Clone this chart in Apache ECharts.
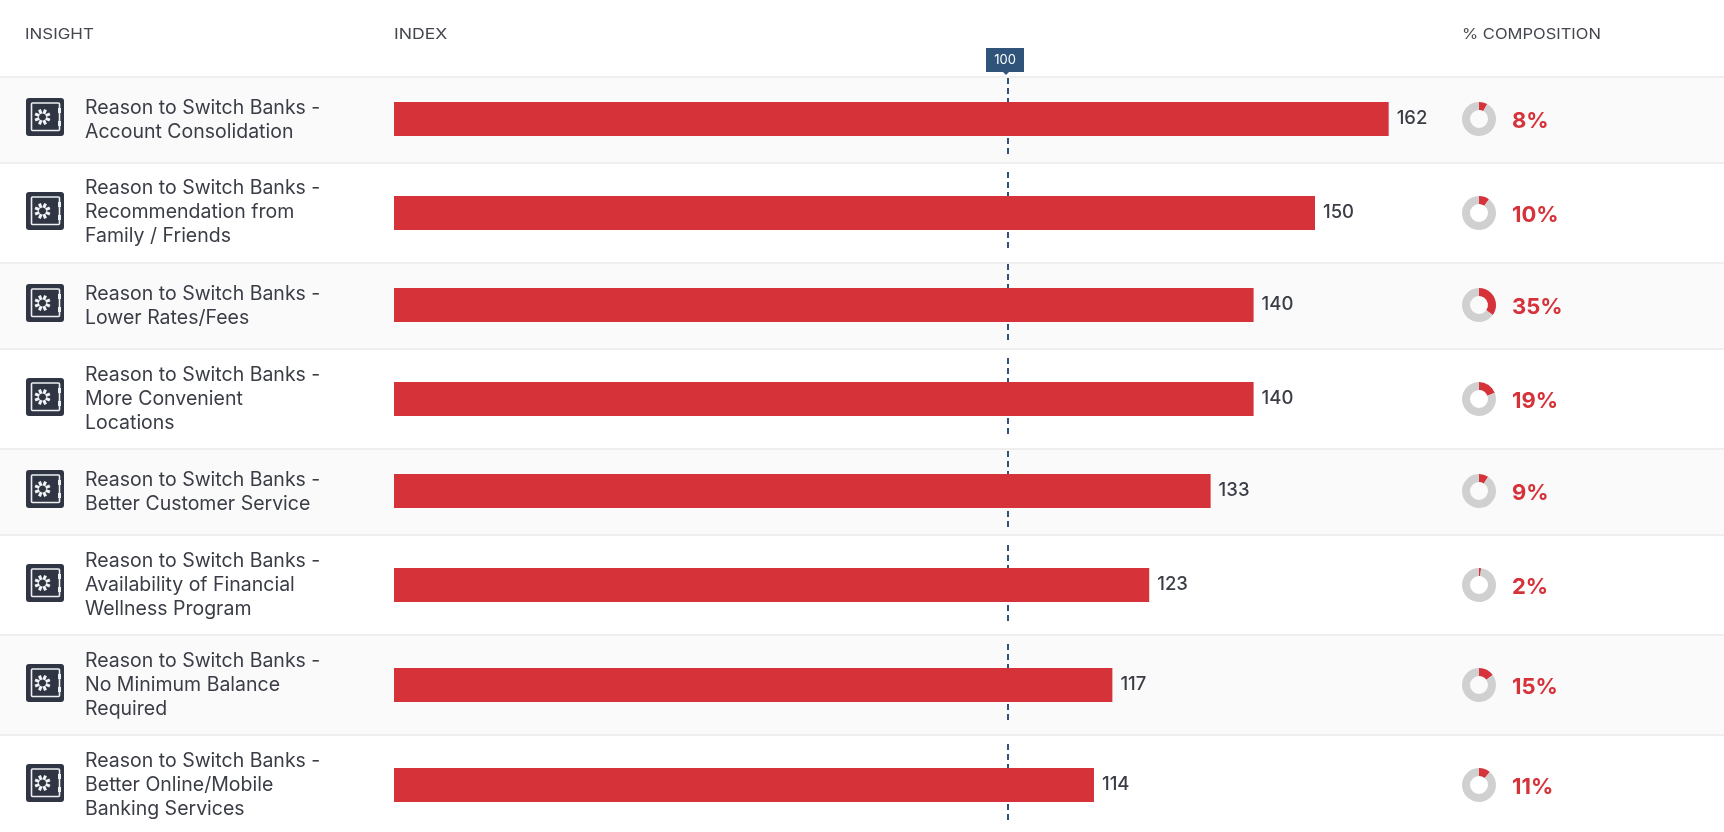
<!DOCTYPE html>
<html>
<head>
<meta charset="utf-8">
<script src="https://cdn.jsdelivr.net/npm/echarts@6/dist/echarts.min.js"></script>
<style>html,body{margin:0;padding:0;background:#fff}#c{width:1724px;height:832px}</style>
</head>
<body>
<div id="c"></div>
<script>
// ---- chart data ----
const insights = [
  'Reason to Switch Banks -\nAccount Consolidation',
  'Reason to Switch Banks -\nRecommendation from\nFamily / Friends',
  'Reason to Switch Banks -\nLower Rates/Fees',
  'Reason to Switch Banks -\nMore Convenient\nLocations',
  'Reason to Switch Banks -\nBetter Customer Service',
  'Reason to Switch Banks -\nAvailability of Financial\nWellness Program',
  'Reason to Switch Banks -\nNo Minimum Balance\nRequired',
  'Reason to Switch Banks -\nBetter Online/Mobile\nBanking Services'
];
const indexValues = [162, 150, 140, 140, 133, 123, 117, 114];
const composition = [8, 10, 35, 19, 9, 2, 15, 11];
const referenceIndex = 100;
const headers = ['INSIGHT', 'INDEX', '% COMPOSITION'];

// ---- layout ----
const rowLines = [77, 163, 263, 349, 449, 535, 635, 735];
const barCentres = [119, 213, 305, 399, 491, 585, 685, 785];
const textCentres = [120, 212, 306, 399, 492, 585, 685, 785];
const lineTops = [78, 172, 264, 358, 451, 545, 644, 744];
const headerPlaces = [[25, 1.21], [394, 1.26], [1462, 1.18]];
const plotLeft = 394, plotWidth = 1043.8, axisMax = 170;
const FONT = 'Inter';
const RED = '#d5323a', NAVY = '#2f5379', INK = '#3a3d45';

const grids = [], xAxes = [], yAxes = [], series = [], graphics = [];

// row bands and separators
rowLines.forEach((y, i) => {
  const next = i < rowLines.length - 1 ? rowLines[i + 1] : 832;
  if (i % 2 === 0 && i < 7) {
    graphics.push({type: 'rect', z: -5, silent: true, shape: {x: 0, y: y, width: 1724, height: next - y}, style: {fill: '#fafafa'}});
  }
  graphics.push({type: 'rect', z: -4, silent: true, shape: {x: 0, y: y - 1, width: 1724, height: 2}, style: {fill: '#efefef'}});
});

// header texts (stretched to stand in for the reference's letter spacing)
headers.forEach((text, i) => {
  graphics.push({type: 'text', silent: true, x: headerPlaces[i][0], y: 35, scaleX: headerPlaces[i][1],
    style: {text: text, fill: '#44474e', font: '14px ' + FONT, verticalAlign: 'middle'}});
});

// pointer under the 100 flag
graphics.push({type: 'polygon', silent: true, shape: {points: [[1003, 72], [1009, 72], [1006, 75]]}, style: {fill: NAVY}});

// safe icon
function safeIcon(cy) {
  const kids = [
    {type: 'rect', shape: {x: 26, y: cy - 19, width: 38, height: 38, r: 3}, style: {fill: '#2f3542'}},
    {type: 'rect', shape: {x: 31.5, y: cy - 14, width: 28, height: 27.5, r: 1}, style: {fill: 'none', stroke: '#eef0f2', lineWidth: 1.6}},
    {type: 'rect', shape: {x: 58, y: cy - 9, width: 3, height: 5}, style: {fill: '#eef0f2'}},
    {type: 'rect', shape: {x: 58, y: cy + 4, width: 3, height: 5}, style: {fill: '#eef0f2'}}
  ];
  for (let k = 0; k < 8; k++) {
    const a = (k + 0.5) * Math.PI / 4;
    kids.push({type: 'line',
      shape: {x1: 42.5 + 3.4 * Math.cos(a), y1: cy + 3.4 * Math.sin(a), x2: 42.5 + 8 * Math.cos(a), y2: cy + 8 * Math.sin(a)},
      style: {stroke: '#f2f3f4', lineWidth: 3}});
  }
  return {type: 'group', silent: true, children: kids};
}

insights.forEach((name, i) => {
  const cy = barCentres[i];
  grids.push({left: plotLeft, width: plotWidth, top: cy - 20, height: 40});
  xAxes.push({type: 'value', gridIndex: i, min: 0, max: axisMax, show: false});
  yAxes.push({type: 'category', gridIndex: i, data: [name], show: false});

  series.push({
    type: 'bar', xAxisIndex: i, yAxisIndex: i, barWidth: 34, clip: false, silent: true, animation: false,
    data: [indexValues[i]], itemStyle: {color: RED}, z: 3,
    label: {show: true, position: 'right', distance: 8, offset: [0, -1], color: INK, fontFamily: FONT, fontSize: 18.5, fontWeight: 500},
    markLine: {
      silent: true, animation: false, symbol: 'none', z: 1,
      lineStyle: {color: NAVY, width: 2, type: [6, 4], opacity: 1},
      label: i === 0 ? {show: true, position: 'start', distance: 6, formatter: String(referenceIndex), color: '#fff',
        backgroundColor: NAVY, width: 38, height: 24, lineHeight: 24, align: 'center', verticalAlign: 'bottom', fontFamily: FONT, fontSize: 13, offset: [-3, 0]} : {show: false},
      data: [[{xAxis: referenceIndex, y: lineTops[i]}, {xAxis: referenceIndex, y: lineTops[i] + 76}]]
    }
  });

  series.push({
    type: 'pie', silent: true, animation: false, center: [1479, cy], radius: [9, 17], startAngle: 90, clockwise: true,
    label: {show: false}, labelLine: {show: false}, emphasis: {disabled: true},
    data: [
      {value: composition[i], name: 'share', itemStyle: {color: RED}},
      {value: 100 - composition[i], name: 'rest', itemStyle: {color: '#d0d0d0'}}
    ]
  });

  graphics.push(safeIcon(cy - 2));
  graphics.push({type: 'text', silent: true, x: 85, y: textCentres[i], style: {text: name, fill: INK, font: '19.5px ' + FONT, lineHeight: 24, verticalAlign: 'middle'}});
  graphics.push({type: 'text', silent: true, x: 1512, y: cy + 2, style: {text: composition[i] + '%', fill: RED, font: '700 22px ' + FONT, verticalAlign: 'middle'}});
});

const chart = echarts.init(document.getElementById('c'), null, {renderer: 'canvas'});
chart.setOption({
  animation: false, backgroundColor: '#fff', tooltip: {show: false},
  graphic: {elements: graphics},
  grid: grids, xAxis: xAxes, yAxis: yAxes, series: series
});
</script>
</body>
</html>
